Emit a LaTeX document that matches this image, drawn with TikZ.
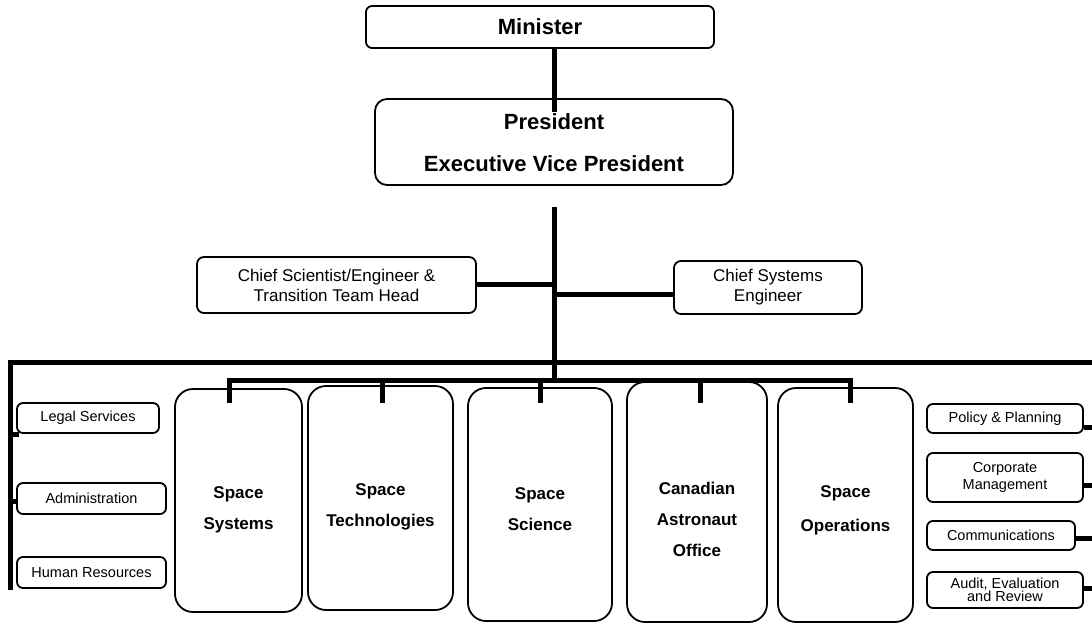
\documentclass[tikz,border=0pt]{standalone}
\usepackage{fontspec}
\setmainfont{Liberation Sans}
\newcommand{\dnshift}[1]{\rule{0pt}{\dimexpr 12.3pt+#1pt+#1pt\relax}}
\begin{document}
\begin{tikzpicture}[x=1pt,y=-1pt,
  box/.style={draw=black, line width=1.8pt, fill=white, inner sep=0pt, align=center, text=black},
  smallbox/.style={box, rounded corners=6pt, font=\fontsize{14.5}{17}\selectfont},
  bigbox/.style={box, rounded corners=18pt, font=\bfseries\fontsize{17}{31}\selectfont},
  chiefbox/.style={box, rounded corners=7pt, font=\fontsize{17}{20}\selectfont},
  conn/.style={line width=5pt, draw=black}
]
\useasboundingbox (0,0) rectangle (1092,623);

% top
\node[box, rounded corners=6pt, minimum width=348pt, minimum height=42pt, font=\bfseries\fontsize{22}{26}\selectfont] (min) at (540,27) {Minister};
\node[box, rounded corners=12pt, minimum width=358pt, minimum height=86pt, font=\bfseries\fontsize{22}{42}\selectfont] (pres) at (554,142) {\dnshift{2}President\\Executive Vice President};
\draw[conn] (pres.north |- min.south) -- ([yshift=-14pt]pres.north);

% trunk
\coordinate (trunktop) at (554,207);
\coordinate (bus) at (554,380);
\draw[conn] (trunktop) -- (bus);

% chiefs
\node[chiefbox, minimum width=279pt, minimum height=56pt] (csci) at (336.5,285) {Chief Scientist/Engineer \&\\Transition Team Head};
\node[chiefbox, minimum width=188pt, minimum height=53pt] (csys) at (768,287.5) {Chief Systems\\Engineer};
\draw[conn] ([yshift=1pt]csci.east) -- ([yshift=1pt]csci.east -| trunktop);
\draw[conn] ([yshift=-6.5pt]csys.west) -- ([yshift=-6.5pt]csys.west -| trunktop);

% top horizontal + left vertical
\coordinate (topbar) at (554,362);
\coordinate (lcorner) at (10,362);
\coordinate (lbottom) at (10,590);
\draw[conn, line join=miter] (1100,362) -- (lcorner) -- (lbottom);

% left boxes
\node[smallbox, minimum width=142pt, minimum height=30pt] (legal) at (88,418) {Legal Services};
\node[smallbox, minimum width=149pt, minimum height=31pt] (admin) at (91.5,498.5) {Administration};
\node[smallbox, minimum width=149pt, minimum height=31pt] (hr) at (91.5,572.5) {Human Resources};
\draw[conn, line width=4.5pt] ([xshift=3pt,yshift=-0.5pt]legal.south west) -- ([yshift=-0.5pt]legal.south west -| lcorner);
\draw[conn, line width=4.5pt] ([xshift=2pt,yshift=-3pt]admin.west) -- ([yshift=-3pt]admin.west -| lcorner);

% big boxes
\node[bigbox, minimum width=127pt, minimum height=223pt] (ssys) at (238.5,500.5) {\dnshift{9}Space\\Systems};
\node[bigbox, minimum width=145pt, minimum height=224pt] (stech) at (380.5,498) {\dnshift{9}Space\\Technologies};
\node[bigbox, minimum width=144pt, minimum height=233pt] (ssci) at (540,504.5) {\dnshift{4}Space\\Science};
\node[bigbox, minimum width=140pt, minimum height=240pt] (cao) at (697,502) {\dnshift{17}Canadian\\Astronaut\\Office};
\node[bigbox, minimum width=135pt, minimum height=234pt] (sops) at (845.5,505) {\dnshift{5}Space\\[3pt]Operations};

% lower bus
\coordinate (tk) at (0,403);
\draw[conn, line join=miter] (229,0 |- tk) -- (229,0 |- bus) -- (850,0 |- bus) -- (850,0 |- tk);
\draw[conn] ([xshift=1.5pt]stech.north |- bus) -- ([xshift=1.5pt]stech.north |- tk);
\draw[conn] (ssci.north |- bus) -- (ssci.north |- tk);
\draw[conn] ([xshift=3pt]cao.north |- bus) -- ([xshift=3pt]cao.north |- tk);

% right boxes
\node[smallbox, minimum width=156pt, minimum height=29pt] (policy) at (1005,418.5) {Policy \& Planning};
\node[smallbox, minimum width=156pt, minimum height=49pt] (corp) at (1005,477.5) {Corporate\\Management};
\node[smallbox, minimum width=148pt, minimum height=29pt] (comm) at (1001,535.5) {Communications};
\node[smallbox, minimum width=156pt, minimum height=36pt, font=\fontsize{14.5}{11}\selectfont] (audit) at (1005,590) {Audit, Evaluation\\and Review};
\coordinate (redge) at (1100,0);
\draw[conn] ([yshift=-8.5pt]policy.east) -- ([yshift=-8.5pt]policy.east -| redge);
\draw[conn] ([yshift=-7.5pt]corp.east) -- ([yshift=-7.5pt]corp.east -| redge);
\draw[conn] ([yshift=-2.5pt]comm.east) -- ([yshift=-2.5pt]comm.east -| redge);
\draw[conn] ([yshift=2pt]audit.east) -- ([yshift=2pt]audit.east -| redge);
\end{tikzpicture}
\end{document}
